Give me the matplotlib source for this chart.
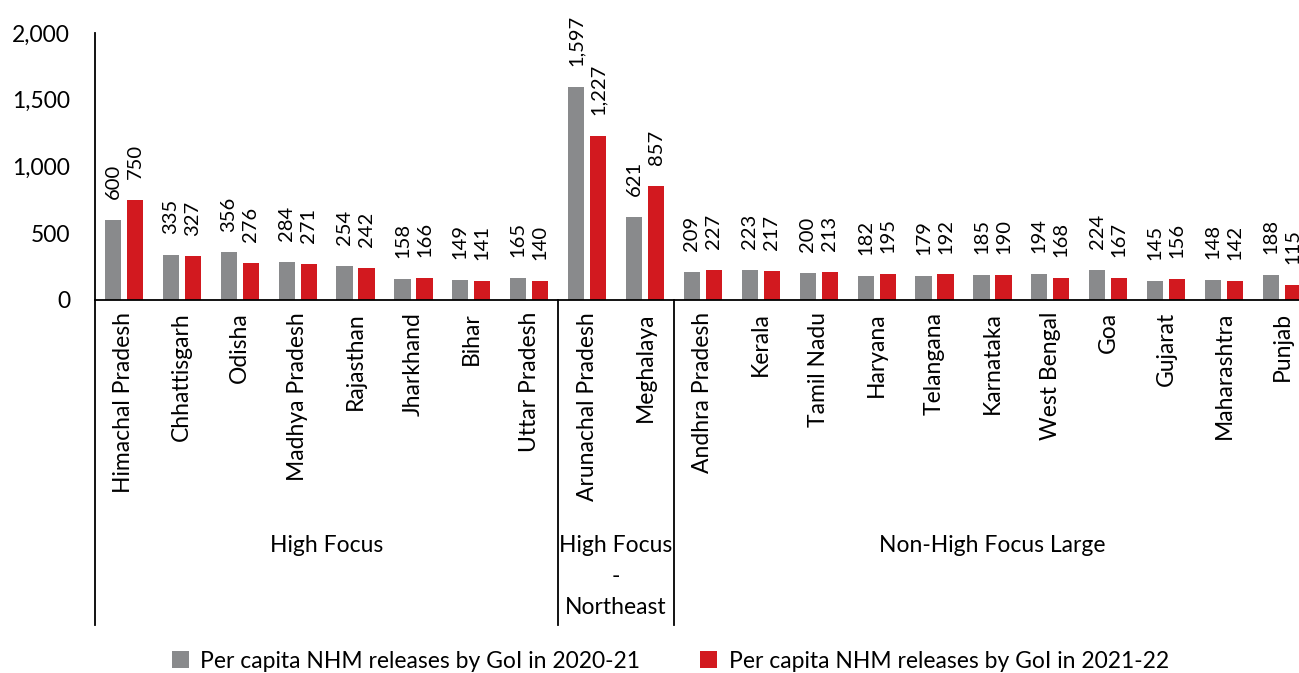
import matplotlib
matplotlib.use("Agg")
import matplotlib.pyplot as plt
import matplotlib.transforms as mtransforms
import numpy as np

states = ["Himachal Pradesh", "Chhattisgarh", "Odisha", "Madhya Pradesh", "Rajasthan",
          "Jharkhand", "Bihar", "Uttar Pradesh", "Arunachal Pradesh", "Meghalaya",
          "Andhra Pradesh", "Kerala", "Tamil Nadu", "Haryana", "Telangana", "Karnataka",
          "West Bengal", "Goa", "Gujarat", "Maharashtra", "Punjab"]
rel_2020 = [600, 335, 356, 284, 254, 158, 149, 165, 1597, 621,
            209, 223, 200, 182, 179, 185, 194, 224, 145, 148, 188]
rel_2021 = [750, 327, 276, 271, 242, 166, 141, 140, 1227, 857,
            227, 217, 213, 195, 192, 190, 168, 167, 156, 142, 115]
groups = ["High Focus", "High Focus\n-\nNortheast", "Non-High Focus Large"]
group_sizes = [8, 2, 11]
yticks = [0, 500, 1000, 1500, 2000]
legend_labels = ["Per capita NHM releases by GoI in 2020-21",
                 "Per capita NHM releases by GoI in 2021-22"]

GRAY = "#898a8c"
RED = "#d2191f"
FS = 16.5
FS_VAL = 14.5
plt.rcParams['font.family'] = ['Lato', 'DejaVu Sans']

W, H = 1299, 673
fig = plt.figure(figsize=(W / 100, H / 100), dpi=100)
x0, x1 = 95, 95 + 21 * 57.9
y0, y1 = 300, 33
ax = fig.add_axes([x0 / W, 1 - y0 / H, (x1 - x0) / W, (y0 - y1) / H])

n = len(states)
x = np.arange(n)
bw = 0.28
off = 0.19
b1 = ax.bar(x - off, rel_2020, bw, color=GRAY, label=legend_labels[0])
b2 = ax.bar(x + off, rel_2021, bw, color=RED, label=legend_labels[1])

ax.set_xlim(-0.5, n - 0.5)
ax.set_ylim(0, 2000)
ax.set_yticks(yticks)
ax.set_yticklabels([f"{v:,}" for v in yticks], fontsize=FS)
ax.tick_params(axis='y', length=0, pad=18)
ax.set_xticks([])

for s in ["top", "right"]:
    ax.spines[s].set_visible(False)
ax.spines["bottom"].set_color("black")
ax.spines["left"].set_color("black")
ax.spines["bottom"].set_linewidth(1.3)
ax.spines["left"].set_linewidth(1.3)

for bars, vals in ((b1, rel_2020), (b2, rel_2021)):
    for rect, v in zip(bars, vals):
        ax.annotate(f"{v:,}", (rect.get_x() + rect.get_width() / 2, v),
                    xytext=(0, 15), textcoords="offset points",
                    rotation=90, ha="center", va="bottom", fontsize=FS_VAL,
                    annotation_clip=False)

trans = mtransforms.blended_transform_factory(ax.transData, ax.transAxes)
ax_h = (y0 - y1)
for i, s in enumerate(states):
    ax.text(i, -12 / ax_h, s, rotation=90, ha="center", va="top",
            fontsize=FS, transform=trans)

# left axis extension and separators
bottom_ext = -(625 - y0) / ax_h
ax.plot([-0.5, -0.5], [0, bottom_ext], transform=trans, color="black",
        lw=1.3, clip_on=False)
start = 0
for gname, gs in zip(groups, group_sizes):
    end = start + gs
    if end < n:
        ax.plot([end - 0.5, end - 0.5], [0, bottom_ext], transform=trans,
                color="black", lw=1.3, clip_on=False)
    cx = (start + end - 1) / 2
    if "\n" in gname:
        ax.text(cx, -(535 - y0) / ax_h, gname, ha="center", va="top",
                fontsize=FS, transform=trans, linespacing=1.6)
    else:
        ax.text(cx, -(545 - y0) / ax_h, gname, ha="center", va="center",
                fontsize=FS, transform=trans)
    start = end

leg = fig.legend(handles=[b1, b2], loc="center", bbox_to_anchor=(0.516, 1 - 661 / H),
                 ncol=2, frameon=False, fontsize=FS, handlelength=0.75,
                 handleheight=0.75, columnspacing=2.6, handletextpad=0.5)

fig.savefig("out.png", dpi=100)
